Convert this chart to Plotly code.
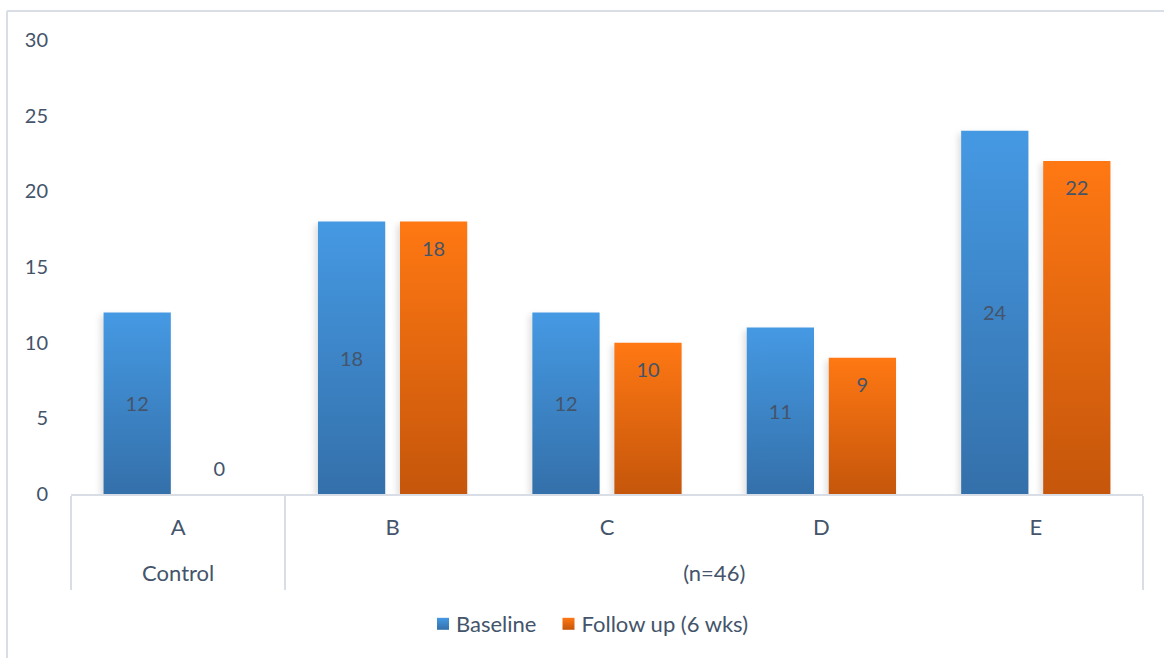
import plotly.graph_objects as go

# Chart data
groups = ["Control", "(n=46)", "(n=46)", "(n=46)", "(n=46)"]
categories = ["A", "B", "C", "D", "E"]
baseline = [12, 18, 12, 11, 24]
follow_up = [0, 18, 10, 9, 22]
series_names = ["Baseline", "Follow up (6 wks)"]
y_ticks = [0, 5, 10, 15, 20, 25, 30]

TEXT = "#44546A"
LINE = "#D9DEE6"
FONT = "Lato"

W, H = 1164, 658
ML, MR, MT, MB = 71, 21, 40, 164
PW, PH = W - ML - MR, H - MT - MB

x = [groups, categories]

fig = go.Figure()
fig.add_trace(go.Bar(
    x=x, y=baseline, name=series_names[0],
    marker=dict(color="#3D85CC", line=dict(width=0)),
    text=baseline, textposition="inside", insidetextanchor="middle",
    textfont=dict(color=TEXT, size=20, family=FONT),
    cliponaxis=False,
))
fig.add_trace(go.Bar(
    x=x, y=follow_up, name=series_names[1],
    marker=dict(color="#E86A10", line=dict(width=0)),
    text=follow_up,
    textposition=["outside" if v == 0 else "inside" for v in follow_up],
    insidetextanchor="end",
    textfont=dict(color=TEXT, size=20, family=FONT),
    cliponaxis=False,
))


def px_to_paper_x(px):
    return (px - ML) / PW


def px_to_paper_y(py):
    return (H - MB - py) / PH


# Outer frame: left and top edges
fig.add_shape(type="line", xref="paper", yref="paper",
              x0=px_to_paper_x(7), x1=px_to_paper_x(7),
              y0=px_to_paper_y(11), y1=px_to_paper_y(H + 5),
              line=dict(color=LINE, width=2))
fig.add_shape(type="line", xref="paper", yref="paper",
              x0=px_to_paper_x(7), x1=px_to_paper_x(W + 5),
              y0=px_to_paper_y(11), y1=px_to_paper_y(11),
              line=dict(color=LINE, width=2))

fig.update_layout(
    width=W, height=H,
    margin=dict(l=ML, r=MR, t=MT, b=MB),
    paper_bgcolor="white", plot_bgcolor="white",
    barmode="group", bargap=0.235, bargroupgap=0.18,
    font=dict(family=FONT, size=20, color=TEXT),
    showlegend=True,
    legend=dict(orientation="h", x=px_to_paper_x(416), xanchor="left",
                y=px_to_paper_y(603), yanchor="top",
                font=dict(size=22, color=TEXT, family=FONT)),
    xaxis=dict(
        type="multicategory",
        showline=True, linecolor=LINE, linewidth=2,
        showdividers=True, dividercolor=LINE, dividerwidth=2,
        ticks="", tickfont=dict(size=22, color=TEXT, family=FONT),
        showgrid=False,
    ),
    yaxis=dict(
        range=[0, 30], tickvals=y_ticks, showgrid=False, zeroline=False,
        showline=False, ticks="", ticklabelstandoff=22,
        tickfont=dict(size=20, color=TEXT, family=FONT),
    ),
)

# Gradient fills, soft bar shadows, label offsets and category-row spacing
post = """
var gd = document.getElementById('{plot_id}');
var ns = 'http://www.w3.org/2000/svg';
function shift(el, dx, dy) {
  var t = el.getAttribute('transform') || '';
  el.setAttribute('transform', 'translate(' + dx + ',' + dy + ') ' + t);
}
var svg = gd.querySelector('svg.main-svg');
var defs = svg.querySelector('defs') || svg.insertBefore(document.createElementNS(ns, 'defs'), svg.firstChild);
var specs = [['gradBlue', '#4599E3', '#3470AA'], ['gradOrange', '#FF7813', '#C5560B']];
specs.forEach(function (s) {
  var g = document.createElementNS(ns, 'linearGradient');
  g.setAttribute('id', s[0]);
  g.setAttribute('x1', '0'); g.setAttribute('y1', '0');
  g.setAttribute('x2', '0'); g.setAttribute('y2', '1');
  [[0, s[1]], [1, s[2]]].forEach(function (st) {
    var stop = document.createElementNS(ns, 'stop');
    stop.setAttribute('offset', st[0]);
    stop.setAttribute('stop-color', st[1]);
    g.appendChild(stop);
  });
  defs.appendChild(g);
});
gd.querySelectorAll('.barlayer .trace').forEach(function (t, i) {
  t.querySelectorAll('.point').forEach(function (pt) {
    var p = pt.querySelector('path');
    if (p) {
      p.style.fill = 'url(#' + specs[i][0] + ')';
      p.style.filter = 'drop-shadow(-3px 3px 3px rgba(0,0,0,0.13))';
    }
    if (i === 1) {
      var txt = pt.querySelector('text');
      if (txt && p) {
        var h = p.getBoundingClientRect().height;
        shift(txt, 0, h < 1 ? -11 : 11);
      }
    }
  });
});
gd.querySelectorAll('.legend .traces').forEach(function (t, i) {
  t.querySelectorAll('.legendpoints path').forEach(function (p) {
    p.style.fill = 'url(#' + specs[i][0] + ')';
    shift(p, 7, 0);
  });
});
gd.querySelectorAll('g.xtick').forEach(function (g) { shift(g, 0, 13); });
gd.querySelectorAll('g.xtick2').forEach(function (g) { shift(g, 0, 30); });
gd.querySelectorAll('path.xdivider').forEach(function (p) {
  var d = p.getAttribute('d');
  p.setAttribute('d', d.replace(/v(-?[0-9.]+)/, 'v94'));
});
"""

fig.write_html("out.html", post_script=post)
